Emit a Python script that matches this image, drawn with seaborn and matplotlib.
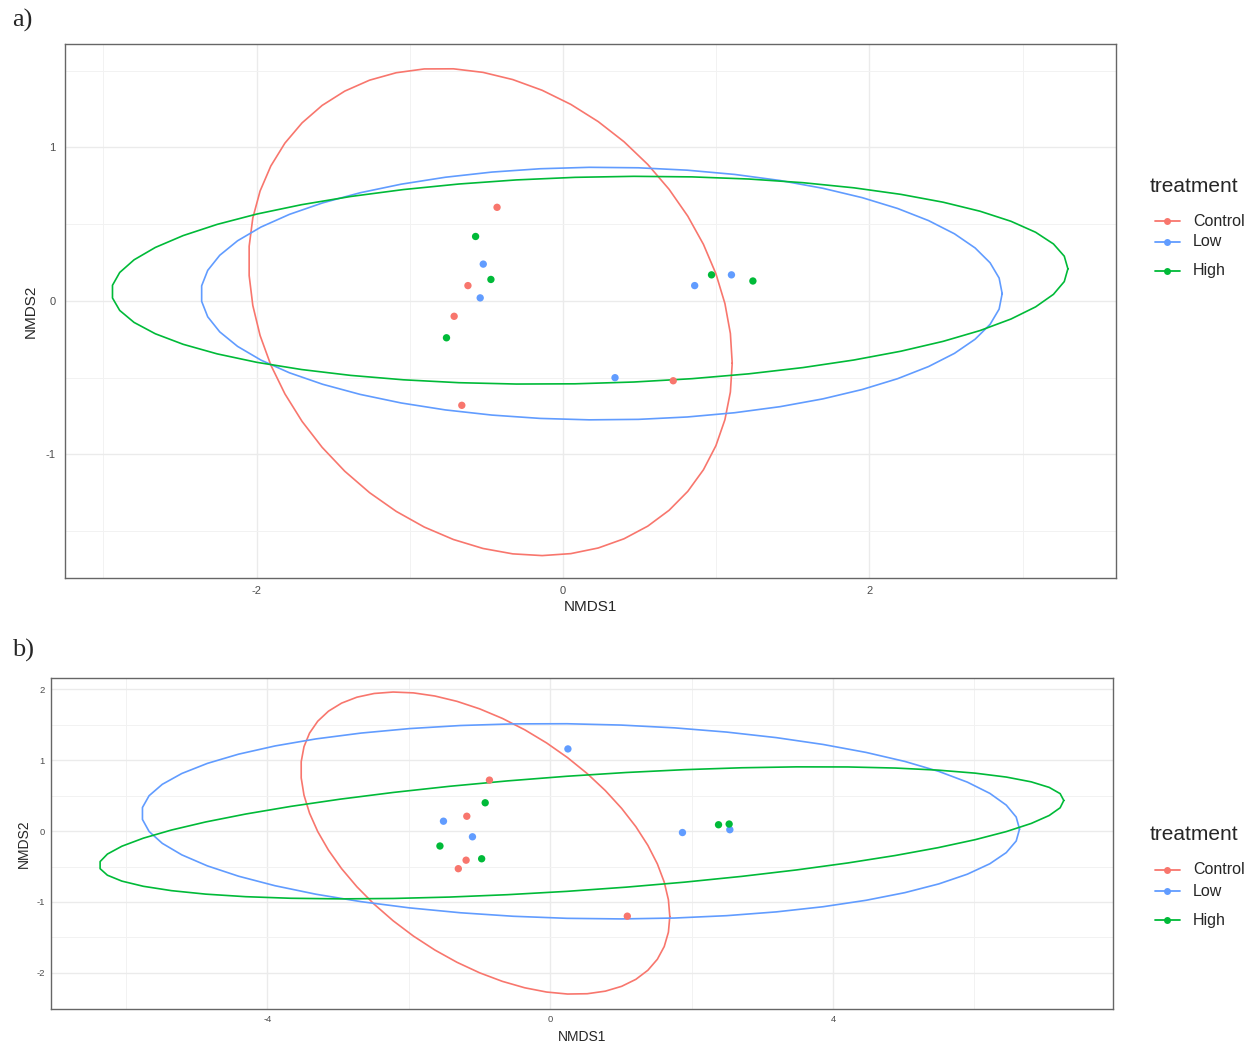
import numpy as np
import pandas as pd
import seaborn as sns
import matplotlib.pyplot as plt
from matplotlib.lines import Line2D

groups = ['Control', 'Low', 'High']
colors = ['#F8766D', '#619CFF', '#00BA38']

# panel a) NMDS scores
a_ctrl_x = [-0.43, -0.62, -0.71, -0.66, 0.72]
a_ctrl_y = [0.61, 0.10, -0.10, -0.68, -0.52]
a_low_x = [-0.52, -0.54, 0.34, 0.86, 1.10]
a_low_y = [0.24, 0.02, -0.50, 0.10, 0.17]
a_high_x = [-0.57, -0.47, -0.76, 0.97, 1.24]
a_high_y = [0.42, 0.14, -0.24, 0.17, 0.13]

# panel a) ellipses: centre, half extents and tilt (Control, Low, High)
a_ell_cx = [-0.473, 0.252, 0.175]
a_ell_cy = [-0.072, 0.048, 0.135]
a_ell_hx = [1.578, 2.615, 3.121]
a_ell_hy = [1.587, 0.823, 0.677]
a_ell_rho = [-0.21, 0.0, 0.11]

# panel b) NMDS scores
b_ctrl_x = [-0.86, -1.18, -1.19, -1.30, 1.09]
b_ctrl_y = [0.72, 0.21, -0.41, -0.53, -1.20]
b_low_x = [0.25, -1.51, -1.10, 1.87, 2.54]
b_low_y = [1.16, 0.14, -0.08, -0.02, 0.02]
b_high_x = [-0.92, -1.56, -0.97, 2.38, 2.53]
b_high_y = [0.40, -0.21, -0.39, 0.09, 0.10]

b_ell_cx = [-0.918, 0.429, 0.442]
b_ell_cy = [-0.169, 0.139, -0.024]
b_ell_hx = [2.609, 6.208, 6.821]
b_ell_hy = [2.132, 1.378, 0.932]
b_ell_rho = [-0.486, -0.08, 0.49]

W, H = 1248, 1042


def scores(xs, ys):
    return pd.DataFrame({
        'NMDS1': np.concatenate(xs),
        'NMDS2': np.concatenate(ys),
        'treatment': np.repeat(groups, [len(x) for x in xs]),
    })


def ellipses(cx, cy, hx, hy, rho):
    t = np.linspace(0, 2 * np.pi, 52)
    frames = []
    for g, x0, y0, a, b, r in zip(groups, cx, cy, hx, hy, rho):
        frames.append(pd.DataFrame({
            'NMDS1': x0 + a * np.cos(t),
            'NMDS2': y0 + b * (r * np.cos(t) + np.sqrt(1 - r * r) * np.sin(t)),
            'treatment': g,
        }))
    return pd.concat(frames, ignore_index=True)


def draw_panel(ax, pts, ell, xlim, ylim, xmaj, xmin, ymaj, ymin,
               tsize, xpad, ypad, lsize, xlpad, ylpad):
    sns.lineplot(data=ell, x='NMDS1', y='NMDS2', hue='treatment',
                 hue_order=groups, palette=colors, sort=False,
                 estimator=None, units='treatment', linewidth=1.2,
                 legend=False, ax=ax, zorder=2)
    sns.scatterplot(data=pts, x='NMDS1', y='NMDS2', hue='treatment',
                    hue_order=groups, palette=colors, s=28,
                    edgecolor='none', legend=False, ax=ax, zorder=3)
    ax.set_xlim(*xlim)
    ax.set_ylim(*ylim)
    ax.set_xticks(xmaj)
    ax.set_xticks(xmin, minor=True)
    ax.set_yticks(ymaj)
    ax.set_yticks(ymin, minor=True)
    ax.set_xticklabels([str(v) for v in xmaj])
    ax.set_yticklabels([str(v) for v in ymaj])
    ax.grid(which='major', color='#EBEBEB', linewidth=1.0, zorder=0)
    ax.grid(which='minor', color='#F2F2F2', linewidth=0.7, zorder=0)
    ax.set_axisbelow(True)
    ax.tick_params(which='major', length=2.5, width=0.6, color='#444444',
                   labelsize=tsize, labelcolor='#4D4D4D')
    ax.tick_params(axis='x', pad=xpad)
    ax.tick_params(axis='y', pad=ypad)
    ax.tick_params(which='minor', length=0)
    for sp in ax.spines.values():
        sp.set_color('#666666')
        sp.set_linewidth(1.0)
    ax.set_xlabel('NMDS1', fontsize=lsize, labelpad=xlpad)
    ax.set_ylabel('NMDS2', fontsize=lsize, labelpad=ylpad)


def draw_legend(fig, y_title, y_items):
    fig.text(1150 / W, 1 - y_title / H, 'treatment', fontsize=15,
             ha='left', va='center')
    for g, c, y in zip(groups, colors, y_items):
        yf = 1 - y / H
        fig.add_artist(Line2D([1155 / W, 1180 / W], [yf, yf], color=c,
                              linewidth=1.3, transform=fig.transFigure))
        fig.add_artist(Line2D([1167 / W], [yf], color=c, marker='o',
                              markersize=5, markeredgewidth=0,
                              transform=fig.transFigure))
        fig.text(1193 / W, yf, g, fontsize=11.5, ha='left', va='center')


sns.set_theme(style='white')
plt.rcParams['axes.unicode_minus'] = False
plt.rcParams['font.family'] = ['Liberation Sans', 'DejaVu Sans']

fig = plt.figure(figsize=(W / 100, H / 100), dpi=100)
fig.patch.set_facecolor('white')

ax_a = fig.add_axes([65 / W, 1 - 578 / H, (1116 - 65) / W, (578 - 44) / H])
draw_panel(ax_a,
           scores([a_ctrl_x, a_low_x, a_high_x], [a_ctrl_y, a_low_y, a_high_y]),
           ellipses(a_ell_cx, a_ell_cy, a_ell_hx, a_ell_hy, a_ell_rho),
           (-3.25, 3.61), (-1.805, 1.674),
           [-2, 0, 2], [-3, -1, 1, 3], [-1, 0, 1], [-1.5, -0.5, 0.5, 1.5],
           tsize=8, xpad=3, ypad=4.5, lsize=11, xlpad=3, ylpad=5.5)

ax_b = fig.add_axes([51.4 / W, 1 - 1009 / H, (1113 - 51.4) / W, (1009 - 677.7) / H])
draw_panel(ax_b,
           scores([b_ctrl_x, b_low_x, b_high_x], [b_ctrl_y, b_low_y, b_high_y]),
           ellipses(b_ell_cx, b_ell_cy, b_ell_hx, b_ell_hy, b_ell_rho),
           (-7.055, 7.959), (-2.51, 2.165),
           [-4, 0, 4], [-6, -2, 2, 6], [-2, -1, 0, 1, 2], [-1.5, -0.5, 0.5, 1.5],
           tsize=6.8, xpad=1.8, ypad=2.3, lsize=10, xlpad=4, ylpad=3.6)

draw_legend(fig, 186, [221, 242, 271])
draw_legend(fig, 835, [870, 891, 920])

fig.text(12 / W, 1 - 20 / H, 'a)', family='Liberation Serif', fontsize=19,
         ha='left', va='center')
fig.text(12 / W, 1 - 650 / H, 'b)', family='Liberation Serif', fontsize=19,
         ha='left', va='center')

fig.savefig('out.png', dpi=100, facecolor='white')
